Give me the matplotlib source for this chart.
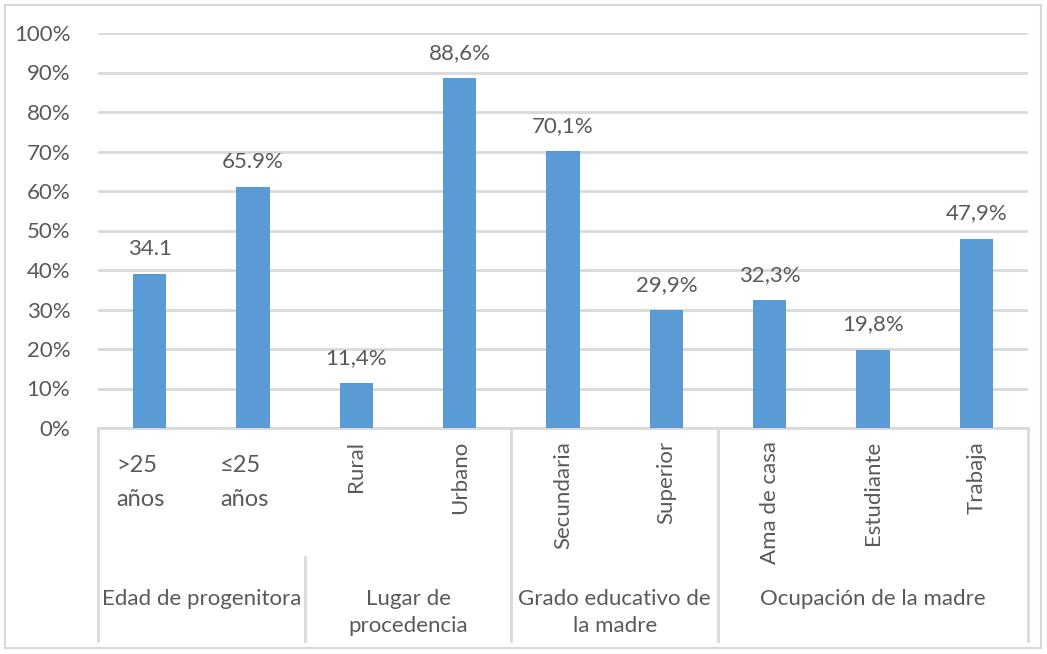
import matplotlib.pyplot as plt
from matplotlib.patches import Rectangle

categorias = [">25\naños", "≤25\naños", "Rural", "Urbano", "Secundaria", "Superior",
              "Ama de casa", "Estudiante", "Trabaja"]
valores = [39.0, 61.0, 11.4, 88.6, 70.1, 29.9, 32.3, 19.8, 47.9]
etiquetas = ["34.1", "65.9%", "11,4%", "88,6%", "70,1%", "29,9%", "32,3%", "19,8%", "47,9%"]
grupos = ["Edad de progenitora", "Lugar de\nprocedencia", "Grado educativo de\nla madre",
          "Ocupación de la madre"]
tam_grupos = [2, 2, 2, 3]

plt.rcParams["font.family"] = ["Lato", "DejaVu Sans"]
gris = "#595959"
linea = "#D9D9D9"
fs = 16

W, H = 1047, 654
fig = plt.figure(figsize=(W / 100, H / 100), dpi=100)
fig.patches.append(Rectangle((5 / W, 6 / H), 1036 / W, 643 / H, transform=fig.transFigure,
                             fill=False, ec=linea, lw=1.5))

x0, x1, y0, y1 = 98, 1028, 428, 33
ax = fig.add_axes([x0 / W, 1 - y0 / H, (x1 - x0) / W, (y0 - y1) / H])

x = list(range(len(valores)))
ax.bar(x, valores, width=0.32, color="#5B9BD5", zorder=3)

for i, (v, t) in enumerate(zip(valores, etiquetas)):
    ax.annotate(t, (i, v), xytext=(0, 11), textcoords="offset points",
                ha="center", va="bottom", fontsize=fs, color=gris)

ax.set_xlim(-0.5, len(valores) - 0.5)
ax.set_ylim(0, 100)
ax.set_yticks(range(0, 101, 10))
ax.set_yticklabels([f"{v}%" for v in range(0, 101, 10)], fontsize=fs, color=gris)
ax.tick_params(axis="y", length=0, pad=20)
ax.set_xticks([])
ax.grid(axis="y", color=linea, lw=2, zorder=0)
for s in ["top", "right", "left"]:
    ax.spines[s].set_visible(False)
ax.spines["bottom"].set_color(linea)
ax.spines["bottom"].set_linewidth(2)

alto = y0 - y1
def fy(py):
    return -(py - y0) / alto

tr = ax.get_xaxis_transform()

# etiquetas de categoria
for i, c in enumerate(categorias):
    if "\n" in c:
        ax.text(i - 0.5 + 0.18, fy(455), c, transform=tr, ha="left", va="top",
                fontsize=17, color=gris, linespacing=1.75)
    else:
        ax.text(i, fy(441), c, transform=tr, ha="center", va="top", rotation=90,
                fontsize=fs, color=gris)

# etiquetas de grupo y separadores
inicio = -0.5
bordes = [inicio]
for g, n in zip(grupos, tam_grupos):
    centro = inicio + n / 2
    ax.text(centro, fy(589), g, transform=tr, ha="center", va="top",
            fontsize=fs, color=gris, linespacing=1.45)
    inicio += n
    bordes.append(inicio)

for j, b in enumerate(bordes):
    arriba = fy(557) if j == 1 else 0
    ax.plot([b, b], [arriba, fy(641)], transform=tr, color=linea, lw=2, clip_on=False)

fig.savefig("out.png", dpi=100)
